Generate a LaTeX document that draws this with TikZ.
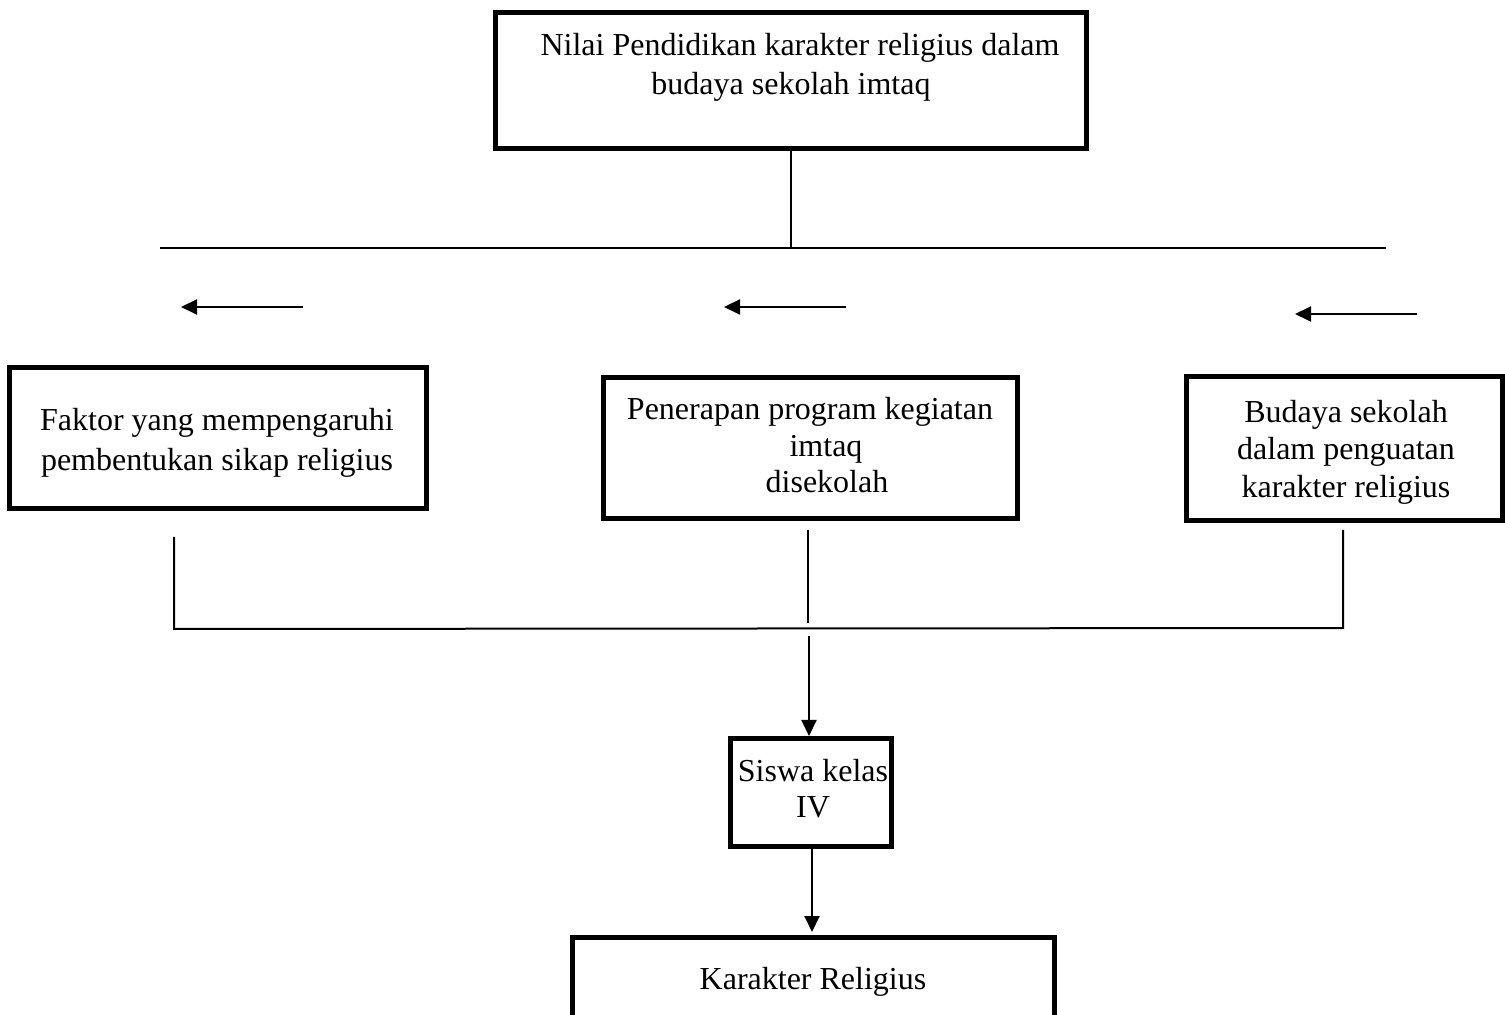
\documentclass[tikz,border=0pt]{standalone}
\usepackage{fontspec}
\setmainfont{Liberation Serif}
\usetikzlibrary{arrows.meta}
\begin{document}
\begin{tikzpicture}[x=0.5pt,y=-0.5pt,
 box/.style={draw,line width=2.5pt,inner sep=0pt},
 txt/.style={anchor=base,inner sep=0pt,font=\fontsize{16}{20}\selectfont},
 conn/.style={line width=1pt},
 arr/.style={conn,-{Triangle[length=8pt,width=7.5pt]}}]
\useasboundingbox (0,0) rectangle (1505,1015);
\clip (0,0) rectangle (1505,1015);
\fill[white] (0,0) rectangle (1505,1015);
% boxes
\node[box,minimum width=295.5pt,minimum height=68pt] (top) at (791,80.5) {};
\node[box,minimum width=208.5pt,minimum height=70.5pt] (b1) at (218,438) {};
\node[box,minimum width=207pt,minimum height=70.5pt] (b2) at (810.5,448) {};
\node[box,minimum width=158pt,minimum height=72pt] (b3) at (1344.5,448.5) {};
\node[box,minimum width=80.5pt,minimum height=54pt] (b4) at (811,792.5) {};
\node[box,minimum width=241pt,minimum height=60pt] (b5) at (813.5,997.5) {};
% texts
\node[txt] (t1a) at (800,56) {Nilai Pendidikan karakter religius dalam};
\node[txt] (t1b) at (791,95) {budaya sekolah imtaq};
\node[txt] (f1) at (217,431) {Faktor yang mempengaruhi};
\node[txt] (f2) at (217,471) {pembentukan sikap religius};
\node[txt] (p1) at (810,420) {Penerapan program kegiatan};
\node[txt] (p2) at (826,457) {imtaq};
\node[txt] (p3) at (827,493) {disekolah};
\node[txt] (s1) at (1346,423) {Budaya sekolah};
\node[txt] (s2) at (1346,460) {dalam penguatan};
\node[txt] (s3) at (1346,498) {karakter religius};
\node[txt] (k1) at (813,781) {Siswa kelas};
\node[txt] (k2) at (813,817) {IV};
\node[txt] (r1) at (813,989) {Karakter Religius};
% top connectors
\coordinate (hj) at (791,248);
\coordinate (hl) at (160,248);
\coordinate (hr) at (1386,248);
\draw[conn] (top.south) -- (hj);
\draw[conn] (hl) -- (hr);
% free arrows
\coordinate (a1s) at (303,307); \coordinate (a1e) at (181,307);
\coordinate (a2s) at (846,307); \coordinate (a2e) at (724,307);
\coordinate (a3s) at (1417,314); \coordinate (a3e) at (1295,314);
\draw[arr] (a1s) -- (a1e);
\draw[arr] (a2s) -- (a2e);
\draw[arr] (a3s) -- (a3e);
% bottom connectors
\coordinate (v1t) at (174,537); \coordinate (v1b) at (174,629);
\coordinate (v2t) at (808,530); \coordinate (v2b) at (808,623);
\coordinate (v3t) at (1343,530); \coordinate (v3b) at (1343,628);
\draw[conn] (v1t) -- (v1b) -- (v3b) -- (v3t);
\draw[conn] (v2t) -- (v2b);
\coordinate (d1s) at (809,636);
\draw[arr] (d1s) -- (d1s |- b4.north);
\coordinate (d2e) at (812,932);
\draw[arr] (b4.south -| d2e) -- (d2e);
\end{tikzpicture}
\end{document}
